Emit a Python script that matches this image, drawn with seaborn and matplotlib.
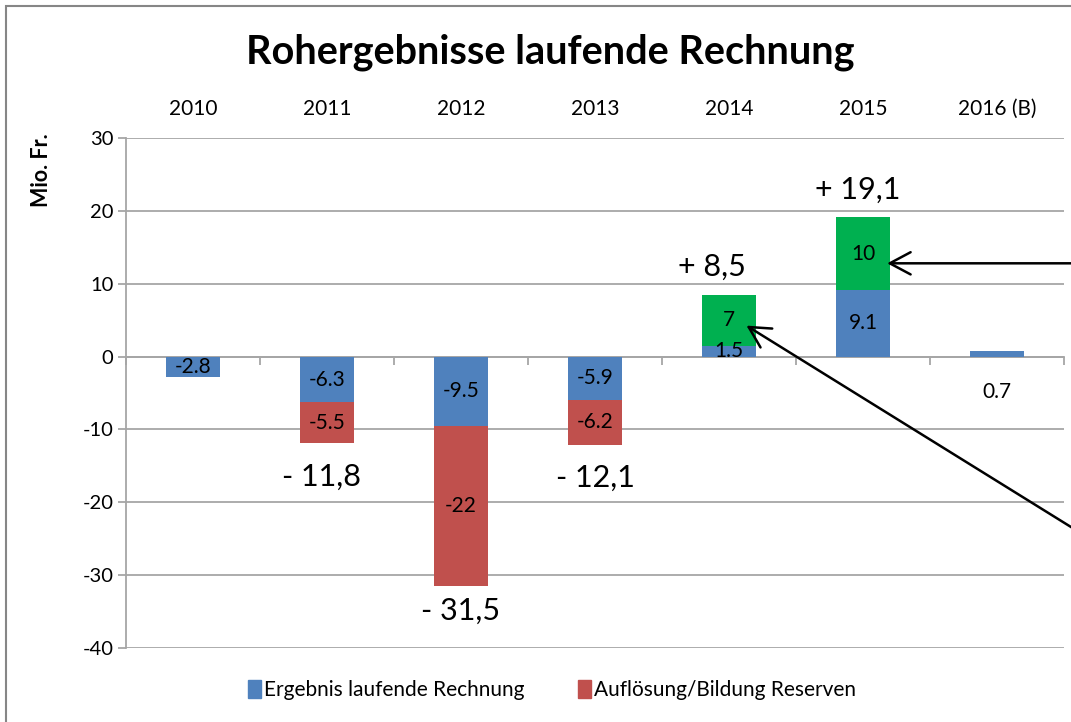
import numpy as np
import matplotlib.pyplot as plt
from matplotlib.patches import Patch, Rectangle
import seaborn as sns

# --- DATEN ---
years = ["2010", "2011", "2012", "2013", "2014", "2015", "2016 (B)"]
ergebnis = [-2.8, -6.3, -9.5, -5.9, 1.5, 9.1, 0.7]
reserven_years = ["2011", "2012", "2013"]
reserven = [-5.5, -22, -6.2]
extra_years = ["2014", "2015"]
extra = [7, 10]
yticks = [-40, -30, -20, -10, 0, 10, 20, 30]

BLUE = "#4F81BD"
RED = "#C0504D"
GREEN = "#00B050"
GRID = "#A6A6A6"
W, H = 1071, 722

sns.set_style("white")
plt.rcParams["font.family"] = ["Lato", "DejaVu Sans"]
plt.rcParams["axes.unicode_minus"] = False
plt.rcParams["text.color"] = "black"
plt.rcParams["xtick.color"] = "black"
plt.rcParams["ytick.color"] = "black"

fig = plt.figure(figsize=(W / 100, H / 100), dpi=100)
ax = fig.add_axes([126 / W, 1 - 648 / H, (1064 - 126) / W, (648 - 138) / H])

erg = dict(zip(years, ergebnis))
bar_kw = dict(order=years, width=0.4, saturation=1, errorbar=None, linewidth=0, ax=ax)
sns.barplot(x=years, y=ergebnis, color=BLUE, **bar_kw)
sns.barplot(x=reserven_years, y=reserven, color=RED,
            bottom=[erg[y] for y in reserven_years], **bar_kw)
sns.barplot(x=extra_years, y=extra, color=GREEN,
            bottom=[erg[y] for y in extra_years], **bar_kw)

# Balkenbeschriftungen
LBL = 15
blue_labels = [f"{v:g}" for v in ergebnis]
blue_labels[-1] = ""
ax.bar_label(ax.containers[0], labels=blue_labels, label_type="center", fontsize=LBL)
ax.bar_label(ax.containers[1], labels=[f"{v:g}" for v in reserven], label_type="center", fontsize=LBL)
ax.bar_label(ax.containers[2], labels=[f"{v:g}" for v in extra], label_type="center", fontsize=LBL)
ax.text(6, -4.8, f"{ergebnis[-1]:g}", ha="center", va="center", fontsize=LBL)

# Totale
totals = {y: erg[y] for y in years}
for y, v in zip(reserven_years, reserven):
    totals[y] += v
for y, v in zip(extra_years, extra):
    totals[y] += v
offsets = {"2011": (-4, -25), "2012": (0, -18), "2013": (0, -24),
           "2014": (-12, 20), "2015": (-4, 20)}
for i, y in enumerate(years):
    if y not in offsets:
        continue
    t = totals[y]
    sign = "+" if t > 0 else "-"
    txt = f"{sign} {abs(t):.1f}".replace(".", ",")
    ax.annotate(txt, (i, t), xytext=offsets[y], textcoords="offset points",
                ha="center", va="center", fontsize=22)

# Achsen
ax.set_xlim(-0.5, 6.5)
ax.set_ylim(-40, 30)
ax.set_yticks(yticks)
ax.yaxis.grid(True, color=GRID, lw=1.3)
ax.set_axisbelow(True)
ax.set_xlabel("")
ax.set_ylabel("")
for s in ["top", "right"]:
    ax.spines[s].set_visible(False)
ax.spines["left"].set_color(GRID)
ax.spines["left"].set_linewidth(1.3)
ax.spines["bottom"].set_position(("data", 0))
ax.spines["bottom"].set_color(GRID)
ax.spines["bottom"].set_linewidth(1.3)
ax.spines["bottom"].set_zorder(0.5)
ax.set_xticks(range(len(years)), labels=[""] * len(years))
ax.set_xticks(np.arange(-0.5, len(years), 1), minor=True)
ax.tick_params(axis="x", which="major", bottom=True, length=0)
ax.tick_params(axis="x", which="minor", bottom=True, length=6, color=GRID, width=1.3,
               direction="out")
ax.tick_params(axis="y", left=True, length=6, color=GRID, width=1.3, direction="out",
               labelsize=14.5, pad=3)

top = ax.secondary_xaxis("top")
top.set_xticks(range(len(years)), labels=years)
top.tick_params(length=0, pad=14, labelsize=15)
top.spines["top"].set_visible(False)

fig.text(550 / W, 1 - 52 / H, "Rohergebnisse laufende Rechnung",
         ha="center", va="center", fontsize=28.5, fontweight="bold")
fig.text(41 / W, 1 - 170 / H, "Mio. Fr.", rotation=90, ha="center", va="center",
         fontsize=15.5, fontweight="bold")

handles = [Patch(color=BLUE, label="Ergebnis laufende Rechnung"),
           Patch(color=RED, label="Auflösung/Bildung Reserven")]
fig.legend(handles=handles, loc="center", bbox_to_anchor=(552 / W, 1 - 690 / H),
           ncol=2, frameon=False, fontsize=15, handlelength=0.6, handleheight=1.0,
           handletextpad=0.15, columnspacing=2.6)

# Pfeile (laufen über den Bildrand hinaus)
arrow = dict(arrowstyle="->,head_length=0.75,head_width=0.4", mutation_scale=20,
             lw=1.8, color="black", shrinkA=0, shrinkB=0)
ax.annotate("", xy=(5.18, 12.8), xycoords="data", xytext=(1100, 12.8),
            textcoords=("figure pixels", "data"), annotation_clip=False,
            arrowprops=arrow)
ax.annotate("", xy=(4.13, 4.25), xycoords="data", xytext=(1100, H - 545),
            textcoords="figure pixels", annotation_clip=False,
            arrowprops=arrow)

fig.patches.append(Rectangle((6 / W, -0.2), 2, 1.2 - 6 / H, transform=fig.transFigure,
                             fill=False, edgecolor="#868686", lw=1.5))

fig.savefig("out.png", dpi=100)
